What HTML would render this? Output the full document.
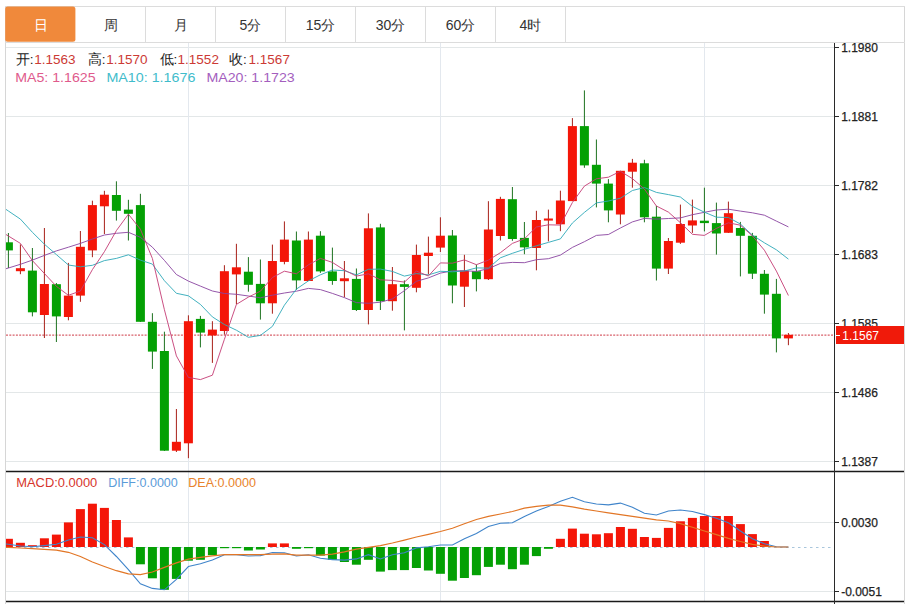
<!DOCTYPE html>
<html><head><meta charset="utf-8"><style>
html,body{margin:0;padding:0;background:#fff;width:917px;height:604px;overflow:hidden}
svg{display:block;font-family:"Liberation Sans",sans-serif}
</style></head><body>
<svg width="917" height="604" viewBox="0 0 917 604">
<line x1="6" y1="47.5" x2="834" y2="47.5" stroke="#e3e7e8" stroke-width="1"/>
<line x1="6" y1="116.5" x2="834" y2="116.5" stroke="#e3e7e8" stroke-width="1"/>
<line x1="6" y1="185.5" x2="834" y2="185.5" stroke="#e3e7e8" stroke-width="1"/>
<line x1="6" y1="254.5" x2="834" y2="254.5" stroke="#e3e7e8" stroke-width="1"/>
<line x1="6" y1="323.5" x2="834" y2="323.5" stroke="#e3e7e8" stroke-width="1"/>
<line x1="6" y1="392.5" x2="834" y2="392.5" stroke="#e3e7e8" stroke-width="1"/>
<line x1="6" y1="461.5" x2="834" y2="461.5" stroke="#e3e7e8" stroke-width="1"/>
<line x1="188.5" y1="43" x2="188.5" y2="471" stroke="#e3e8ee" stroke-width="1"/>
<line x1="188.5" y1="472" x2="188.5" y2="601" stroke="#e3e8ee" stroke-width="1"/>
<line x1="440.5" y1="43" x2="440.5" y2="471" stroke="#e3e8ee" stroke-width="1"/>
<line x1="440.5" y1="472" x2="440.5" y2="601" stroke="#e3e8ee" stroke-width="1"/>
<line x1="704.5" y1="43" x2="704.5" y2="471" stroke="#e3e8ee" stroke-width="1"/>
<line x1="704.5" y1="472" x2="704.5" y2="601" stroke="#e3e8ee" stroke-width="1"/>
<line x1="6" y1="522.5" x2="834" y2="522.5" stroke="#e3e7e8" stroke-width="1"/>
<line x1="6" y1="591.5" x2="834" y2="591.5" stroke="#e3e7e8" stroke-width="1"/>
<defs><clipPath id="cm"><rect x="6" y="43" width="828" height="428"/></clipPath><clipPath id="cd"><rect x="6" y="472" width="828" height="129"/></clipPath></defs>
<line x1="6" y1="335.2" x2="834" y2="335.2" stroke="#d8606a" stroke-width="1.2" stroke-dasharray="2,1.3"/>
<g clip-path="url(#cm)">
<line x1="8.4" y1="233.0" x2="8.4" y2="268.0" stroke="#1c721f" stroke-width="1"/>
<rect x="3.9" y="242.3" width="9.0" height="8.1" fill="#04a004"/>
<line x1="20.4" y1="244.4" x2="20.4" y2="274.2" stroke="#a82018" stroke-width="1"/>
<rect x="15.9" y="268.2" width="9.0" height="3.0" fill="#f41608"/>
<line x1="32.4" y1="248.0" x2="32.4" y2="316.4" stroke="#1c721f" stroke-width="1"/>
<rect x="27.9" y="270.6" width="9.0" height="41.7" fill="#04a004"/>
<line x1="44.4" y1="228.0" x2="44.4" y2="338.0" stroke="#a82018" stroke-width="1"/>
<rect x="39.9" y="284.0" width="9.0" height="31.0" fill="#f41608"/>
<line x1="56.4" y1="283.0" x2="56.4" y2="342.0" stroke="#1c721f" stroke-width="1"/>
<rect x="51.9" y="284.2" width="9.0" height="32.2" fill="#04a004"/>
<line x1="68.4" y1="262.9" x2="68.4" y2="320.3" stroke="#a82018" stroke-width="1"/>
<rect x="63.9" y="295.6" width="9.0" height="21.4" fill="#f41608"/>
<line x1="80.4" y1="231.0" x2="80.4" y2="301.8" stroke="#a82018" stroke-width="1"/>
<rect x="75.9" y="246.8" width="9.0" height="48.8" fill="#f41608"/>
<line x1="92.4" y1="200.7" x2="92.4" y2="257.2" stroke="#a82018" stroke-width="1"/>
<rect x="87.9" y="205.1" width="9.0" height="45.3" fill="#f41608"/>
<line x1="104.4" y1="190.8" x2="104.4" y2="234.0" stroke="#a82018" stroke-width="1"/>
<rect x="99.9" y="194.7" width="9.0" height="11.6" fill="#f41608"/>
<line x1="116.4" y1="181.3" x2="116.4" y2="220.6" stroke="#1c721f" stroke-width="1"/>
<rect x="111.9" y="195.0" width="9.0" height="15.8" fill="#04a004"/>
<line x1="128.4" y1="199.8" x2="128.4" y2="240.5" stroke="#1c721f" stroke-width="1"/>
<rect x="123.9" y="209.6" width="9.0" height="4.2" fill="#04a004"/>
<line x1="140.4" y1="193.8" x2="140.4" y2="322.0" stroke="#1c721f" stroke-width="1"/>
<rect x="135.9" y="205.1" width="9.0" height="116.7" fill="#04a004"/>
<line x1="152.4" y1="313.2" x2="152.4" y2="368.9" stroke="#1c721f" stroke-width="1"/>
<rect x="147.9" y="321.8" width="9.0" height="29.8" fill="#04a004"/>
<line x1="164.4" y1="331.7" x2="164.4" y2="451.0" stroke="#1c721f" stroke-width="1"/>
<rect x="159.9" y="351.0" width="9.0" height="99.7" fill="#04a004"/>
<line x1="176.4" y1="409.0" x2="176.4" y2="452.0" stroke="#a82018" stroke-width="1"/>
<rect x="171.9" y="441.8" width="9.0" height="8.9" fill="#f41608"/>
<line x1="188.4" y1="315.3" x2="188.4" y2="458.2" stroke="#a82018" stroke-width="1"/>
<rect x="183.9" y="321.2" width="9.0" height="122.1" fill="#f41608"/>
<line x1="200.4" y1="315.9" x2="200.4" y2="347.4" stroke="#1c721f" stroke-width="1"/>
<rect x="195.9" y="318.9" width="9.0" height="13.7" fill="#04a004"/>
<line x1="212.4" y1="321.2" x2="212.4" y2="362.9" stroke="#a82018" stroke-width="1"/>
<rect x="207.9" y="329.6" width="9.0" height="5.9" fill="#f41608"/>
<line x1="224.4" y1="265.2" x2="224.4" y2="334.6" stroke="#a82018" stroke-width="1"/>
<rect x="219.9" y="271.2" width="9.0" height="59.8" fill="#f41608"/>
<line x1="236.4" y1="243.8" x2="236.4" y2="304.2" stroke="#a82018" stroke-width="1"/>
<rect x="231.9" y="267.3" width="9.0" height="7.1" fill="#f41608"/>
<line x1="248.4" y1="257.1" x2="248.4" y2="291.7" stroke="#1c721f" stroke-width="1"/>
<rect x="243.9" y="271.7" width="9.0" height="13.1" fill="#04a004"/>
<line x1="260.4" y1="259.5" x2="260.4" y2="319.6" stroke="#1c721f" stroke-width="1"/>
<rect x="255.9" y="283.9" width="9.0" height="19.4" fill="#04a004"/>
<line x1="272.4" y1="244.6" x2="272.4" y2="313.7" stroke="#a82018" stroke-width="1"/>
<rect x="267.9" y="261.0" width="9.0" height="42.3" fill="#f41608"/>
<line x1="284.4" y1="221.4" x2="284.4" y2="264.3" stroke="#a82018" stroke-width="1"/>
<rect x="279.9" y="239.6" width="9.0" height="22.3" fill="#f41608"/>
<line x1="296.4" y1="231.5" x2="296.4" y2="289.9" stroke="#1c721f" stroke-width="1"/>
<rect x="291.9" y="240.5" width="9.0" height="39.9" fill="#04a004"/>
<line x1="308.4" y1="231.5" x2="308.4" y2="281.0" stroke="#a82018" stroke-width="1"/>
<rect x="303.9" y="239.6" width="9.0" height="41.4" fill="#f41608"/>
<line x1="320.4" y1="231.2" x2="320.4" y2="272.9" stroke="#1c721f" stroke-width="1"/>
<rect x="315.9" y="235.7" width="9.0" height="35.7" fill="#04a004"/>
<line x1="332.4" y1="247.6" x2="332.4" y2="284.8" stroke="#1c721f" stroke-width="1"/>
<rect x="327.9" y="271.4" width="9.0" height="9.6" fill="#04a004"/>
<line x1="344.4" y1="261.0" x2="344.4" y2="297.3" stroke="#a82018" stroke-width="1"/>
<rect x="339.9" y="278.3" width="9.0" height="2.9" fill="#f41608"/>
<line x1="356.4" y1="268.5" x2="356.4" y2="311.0" stroke="#1c721f" stroke-width="1"/>
<rect x="351.9" y="278.9" width="9.0" height="31.1" fill="#04a004"/>
<line x1="368.4" y1="213.4" x2="368.4" y2="324.4" stroke="#a82018" stroke-width="1"/>
<rect x="363.9" y="228.3" width="9.0" height="81.7" fill="#f41608"/>
<line x1="380.4" y1="223.8" x2="380.4" y2="310.0" stroke="#1c721f" stroke-width="1"/>
<rect x="375.9" y="227.4" width="9.0" height="73.8" fill="#04a004"/>
<line x1="392.4" y1="267.0" x2="392.4" y2="310.7" stroke="#a82018" stroke-width="1"/>
<rect x="387.9" y="284.2" width="9.0" height="17.0" fill="#f41608"/>
<line x1="404.4" y1="280.4" x2="404.4" y2="330.4" stroke="#1c721f" stroke-width="1"/>
<rect x="399.9" y="284.2" width="9.0" height="2.7" fill="#04a004"/>
<line x1="416.4" y1="244.6" x2="416.4" y2="292.3" stroke="#a82018" stroke-width="1"/>
<rect x="411.9" y="255.0" width="9.0" height="32.8" fill="#f41608"/>
<line x1="428.4" y1="236.6" x2="428.4" y2="274.4" stroke="#a82018" stroke-width="1"/>
<rect x="423.9" y="252.7" width="9.0" height="3.3" fill="#f41608"/>
<line x1="440.4" y1="217.3" x2="440.4" y2="252.0" stroke="#a82018" stroke-width="1"/>
<rect x="435.9" y="235.7" width="9.0" height="11.9" fill="#f41608"/>
<line x1="452.4" y1="230.0" x2="452.4" y2="303.3" stroke="#1c721f" stroke-width="1"/>
<rect x="447.9" y="235.5" width="9.0" height="50.0" fill="#04a004"/>
<line x1="464.4" y1="254.8" x2="464.4" y2="307.0" stroke="#a82018" stroke-width="1"/>
<rect x="459.9" y="270.6" width="9.0" height="16.1" fill="#f41608"/>
<line x1="476.4" y1="264.6" x2="476.4" y2="291.4" stroke="#1c721f" stroke-width="1"/>
<rect x="471.9" y="271.2" width="9.0" height="8.0" fill="#04a004"/>
<line x1="488.4" y1="201.2" x2="488.4" y2="280.0" stroke="#a82018" stroke-width="1"/>
<rect x="483.9" y="229.5" width="9.0" height="49.7" fill="#f41608"/>
<line x1="500.4" y1="196.8" x2="500.4" y2="240.5" stroke="#a82018" stroke-width="1"/>
<rect x="495.9" y="198.9" width="9.0" height="37.1" fill="#f41608"/>
<line x1="512.4" y1="187.0" x2="512.4" y2="240.8" stroke="#1c721f" stroke-width="1"/>
<rect x="507.9" y="199.2" width="9.0" height="39.8" fill="#04a004"/>
<line x1="524.4" y1="222.0" x2="524.4" y2="254.2" stroke="#1c721f" stroke-width="1"/>
<rect x="519.9" y="237.9" width="9.0" height="9.5" fill="#04a004"/>
<line x1="536.4" y1="210.8" x2="536.4" y2="270.3" stroke="#a82018" stroke-width="1"/>
<rect x="531.9" y="220.0" width="9.0" height="28.0" fill="#f41608"/>
<line x1="548.4" y1="209.6" x2="548.4" y2="241.4" stroke="#a82018" stroke-width="1"/>
<rect x="543.9" y="218.5" width="9.0" height="2.1" fill="#f41608"/>
<line x1="560.4" y1="190.7" x2="560.4" y2="231.2" stroke="#a82018" stroke-width="1"/>
<rect x="555.9" y="200.5" width="9.0" height="23.8" fill="#f41608"/>
<line x1="572.4" y1="118.1" x2="572.4" y2="201.1" stroke="#a82018" stroke-width="1"/>
<rect x="567.9" y="126.1" width="9.0" height="75.0" fill="#f41608"/>
<line x1="584.4" y1="90.4" x2="584.4" y2="167.8" stroke="#1c721f" stroke-width="1"/>
<rect x="579.9" y="126.1" width="9.0" height="39.3" fill="#04a004"/>
<line x1="596.4" y1="139.5" x2="596.4" y2="207.4" stroke="#1c721f" stroke-width="1"/>
<rect x="591.9" y="164.8" width="9.0" height="18.8" fill="#04a004"/>
<line x1="608.4" y1="179.1" x2="608.4" y2="222.3" stroke="#1c721f" stroke-width="1"/>
<rect x="603.9" y="183.6" width="9.0" height="26.8" fill="#04a004"/>
<line x1="620.4" y1="170.8" x2="620.4" y2="224.3" stroke="#a82018" stroke-width="1"/>
<rect x="615.9" y="170.8" width="9.0" height="43.7" fill="#f41608"/>
<line x1="632.4" y1="158.9" x2="632.4" y2="187.7" stroke="#a82018" stroke-width="1"/>
<rect x="627.9" y="162.7" width="9.0" height="9.0" fill="#f41608"/>
<line x1="644.4" y1="159.8" x2="644.4" y2="222.3" stroke="#1c721f" stroke-width="1"/>
<rect x="639.9" y="163.3" width="9.0" height="54.0" fill="#04a004"/>
<line x1="656.4" y1="206.0" x2="656.4" y2="280.5" stroke="#1c721f" stroke-width="1"/>
<rect x="651.9" y="216.7" width="9.0" height="51.9" fill="#04a004"/>
<line x1="668.4" y1="238.0" x2="668.4" y2="274.0" stroke="#a82018" stroke-width="1"/>
<rect x="663.9" y="241.0" width="9.0" height="27.6" fill="#f41608"/>
<line x1="680.4" y1="204.6" x2="680.4" y2="243.9" stroke="#a82018" stroke-width="1"/>
<rect x="675.9" y="224.0" width="9.0" height="18.7" fill="#f41608"/>
<line x1="692.4" y1="199.6" x2="692.4" y2="232.9" stroke="#a82018" stroke-width="1"/>
<rect x="687.9" y="220.4" width="9.0" height="5.1" fill="#f41608"/>
<line x1="704.4" y1="187.7" x2="704.4" y2="231.4" stroke="#1c721f" stroke-width="1"/>
<rect x="699.9" y="220.7" width="9.0" height="2.4" fill="#04a004"/>
<line x1="716.4" y1="202.6" x2="716.4" y2="254.6" stroke="#1c721f" stroke-width="1"/>
<rect x="711.9" y="223.1" width="9.0" height="10.4" fill="#04a004"/>
<line x1="728.4" y1="201.6" x2="728.4" y2="233.0" stroke="#a82018" stroke-width="1"/>
<rect x="723.9" y="213.2" width="9.0" height="19.6" fill="#f41608"/>
<line x1="740.4" y1="221.9" x2="740.4" y2="276.4" stroke="#1c721f" stroke-width="1"/>
<rect x="735.9" y="228.0" width="9.0" height="7.8" fill="#04a004"/>
<line x1="752.4" y1="232.9" x2="752.4" y2="279.0" stroke="#1c721f" stroke-width="1"/>
<rect x="747.9" y="235.8" width="9.0" height="37.9" fill="#04a004"/>
<line x1="764.4" y1="270.0" x2="764.4" y2="313.7" stroke="#1c721f" stroke-width="1"/>
<rect x="759.9" y="273.8" width="9.0" height="20.8" fill="#04a004"/>
<line x1="776.4" y1="278.9" x2="776.4" y2="352.4" stroke="#1c721f" stroke-width="1"/>
<rect x="771.9" y="293.8" width="9.0" height="44.6" fill="#04a004"/>
<line x1="788.4" y1="333.0" x2="788.4" y2="345.2" stroke="#a82018" stroke-width="1"/>
<rect x="783.9" y="334.8" width="9.0" height="3.6" fill="#f41608"/>
<polyline points="-3.6,271.7 8.4,268.0 20.4,264.3 32.4,260.1 44.4,255.4 56.4,250.9 68.4,247.2 80.4,243.4 92.4,239.0 104.4,235.0 116.4,233.3 128.4,232.3 140.4,237.3 152.4,247.2 164.4,260.4 176.4,274.5 188.4,281.1 200.4,286.1 212.4,291.0 224.4,293.5 236.4,294.3 248.4,296.0 260.4,297.8 272.4,295.2 284.4,293.0 296.4,291.2 308.4,288.4 320.4,289.6 332.4,293.4 344.4,297.6 356.4,302.6 368.4,303.3 380.4,302.2 392.4,298.9 404.4,290.7 416.4,281.3 428.4,277.9 440.4,273.1 452.4,270.9 464.4,270.8 476.4,271.4 488.4,268.7 500.4,263.4 512.4,262.4 524.4,262.7 536.4,259.7 548.4,258.7 560.4,255.1 572.4,247.4 584.4,241.7 596.4,235.4 608.4,234.5 620.4,228.0 632.4,221.9 644.4,218.4 656.4,219.1 668.4,218.5 680.4,217.9 692.4,214.7 704.4,212.3 716.4,210.0 728.4,209.2 740.4,211.1 752.4,212.8 764.4,215.2 776.4,221.1 788.4,226.9" fill="none" stroke="#8a44a0" stroke-width="1" stroke-opacity="0.9"/>
<polyline points="-3.6,202.9 8.4,211.0 20.4,219.1 32.4,232.3 44.4,244.2 56.4,254.6 68.4,265.0 80.4,266.8 92.4,265.3 104.4,260.6 116.4,258.4 128.4,254.8 140.4,260.1 152.4,264.1 164.4,280.7 176.4,293.3 188.4,295.8 200.4,304.4 212.4,316.9 224.4,324.5 236.4,330.2 248.4,337.3 260.4,335.4 272.4,326.4 284.4,305.2 296.4,289.1 308.4,280.9 320.4,274.8 332.4,270.0 344.4,270.7 356.4,274.9 368.4,269.3 380.4,269.1 392.4,271.4 404.4,276.1 416.4,273.6 428.4,274.9 440.4,271.3 452.4,271.8 464.4,271.0 476.4,267.9 488.4,268.1 500.4,257.8 512.4,253.3 524.4,249.3 536.4,245.8 548.4,242.4 560.4,238.9 572.4,223.0 584.4,212.4 596.4,202.9 608.4,201.0 620.4,198.2 632.4,190.5 644.4,187.5 656.4,192.4 668.4,194.6 680.4,197.0 692.4,206.4 704.4,212.2 716.4,217.2 728.4,217.5 740.4,224.0 752.4,235.1 764.4,242.8 776.4,249.8 788.4,259.1" fill="none" stroke="#2ea8b8" stroke-width="1" stroke-opacity="0.9"/>
<polyline points="-3.6,228.6 8.4,236.0 20.4,243.4 32.4,260.6 44.4,273.5 56.4,286.3 68.4,295.3 80.4,291.0 92.4,269.6 104.4,251.7 116.4,230.6 128.4,214.2 140.4,229.2 152.4,258.5 164.4,309.7 176.4,355.9 188.4,377.4 200.4,379.6 212.4,375.2 224.4,339.3 236.4,304.4 248.4,297.1 260.4,291.2 272.4,277.5 284.4,271.2 296.4,273.8 308.4,264.8 320.4,258.4 332.4,262.4 344.4,270.1 356.4,276.1 368.4,273.8 380.4,279.8 392.4,280.4 404.4,282.1 416.4,271.1 428.4,276.0 440.4,262.9 452.4,263.2 464.4,259.9 476.4,264.7 488.4,260.1 500.4,252.7 512.4,243.4 524.4,238.8 536.4,227.0 548.4,224.8 560.4,225.1 572.4,202.5 584.4,186.1 596.4,178.8 608.4,177.2 620.4,171.3 632.4,178.6 644.4,189.0 656.4,206.0 668.4,212.1 680.4,222.7 692.4,234.3 704.4,235.4 716.4,228.4 728.4,222.8 740.4,225.2 752.4,235.9 764.4,250.2 776.4,271.1 788.4,295.5" fill="none" stroke="#c43c74" stroke-width="1" stroke-opacity="0.9"/>
</g>
<line x1="6" y1="547.5" x2="834" y2="547.5" stroke="#a9c6dc" stroke-width="1" stroke-dasharray="2.5,3.5"/>
<g clip-path="url(#cd)">
<rect x="3.9" y="538.8" width="9.0" height="8.2" fill="#f41608"/>
<rect x="15.9" y="542.8" width="9.0" height="4.2" fill="#f41608"/>
<rect x="27.9" y="545.2" width="9.0" height="1.8" fill="#f41608"/>
<rect x="39.9" y="538.3" width="9.0" height="8.7" fill="#f41608"/>
<rect x="51.9" y="534.6" width="9.0" height="12.4" fill="#f41608"/>
<rect x="63.9" y="522.4" width="9.0" height="24.6" fill="#f41608"/>
<rect x="75.9" y="509.1" width="9.0" height="37.9" fill="#f41608"/>
<rect x="87.9" y="503.7" width="9.0" height="43.3" fill="#f41608"/>
<rect x="99.9" y="507.9" width="9.0" height="39.1" fill="#f41608"/>
<rect x="111.9" y="520.0" width="9.0" height="27.0" fill="#f41608"/>
<rect x="123.9" y="537.4" width="9.0" height="9.6" fill="#f41608"/>
<rect x="135.9" y="547.0" width="9.0" height="17.3" fill="#04a004"/>
<rect x="147.9" y="547.0" width="9.0" height="31.3" fill="#04a004"/>
<rect x="159.9" y="547.0" width="9.0" height="42.8" fill="#04a004"/>
<rect x="171.9" y="547.0" width="9.0" height="31.9" fill="#04a004"/>
<rect x="183.9" y="547.0" width="9.0" height="13.7" fill="#04a004"/>
<rect x="195.9" y="547.0" width="9.0" height="12.8" fill="#04a004"/>
<rect x="207.9" y="547.0" width="9.0" height="8.2" fill="#04a004"/>
<rect x="219.9" y="547.0" width="9.0" height="1.2" fill="#04a004"/>
<rect x="231.9" y="547.0" width="9.0" height="1.2" fill="#04a004"/>
<rect x="243.9" y="547.0" width="9.0" height="3.5" fill="#04a004"/>
<rect x="255.9" y="547.0" width="9.0" height="2.5" fill="#04a004"/>
<rect x="267.9" y="543.4" width="9.0" height="3.6" fill="#f41608"/>
<rect x="279.9" y="543.4" width="9.0" height="3.6" fill="#f41608"/>
<rect x="291.9" y="547.0" width="9.0" height="1.8" fill="#04a004"/>
<rect x="303.9" y="547.0" width="9.0" height="1.2" fill="#04a004"/>
<rect x="315.9" y="547.0" width="9.0" height="8.6" fill="#04a004"/>
<rect x="327.9" y="547.0" width="9.0" height="12.8" fill="#04a004"/>
<rect x="339.9" y="547.0" width="9.0" height="15.0" fill="#04a004"/>
<rect x="351.9" y="547.0" width="9.0" height="17.7" fill="#04a004"/>
<rect x="363.9" y="547.0" width="9.0" height="12.8" fill="#04a004"/>
<rect x="375.9" y="547.0" width="9.0" height="24.6" fill="#04a004"/>
<rect x="387.9" y="547.0" width="9.0" height="23.1" fill="#04a004"/>
<rect x="399.9" y="547.0" width="9.0" height="23.1" fill="#04a004"/>
<rect x="411.9" y="547.0" width="9.0" height="21.0" fill="#04a004"/>
<rect x="423.9" y="547.0" width="9.0" height="23.5" fill="#04a004"/>
<rect x="435.9" y="547.0" width="9.0" height="26.8" fill="#04a004"/>
<rect x="447.9" y="547.0" width="9.0" height="33.7" fill="#04a004"/>
<rect x="459.9" y="547.0" width="9.0" height="31.0" fill="#04a004"/>
<rect x="471.9" y="547.0" width="9.0" height="28.2" fill="#04a004"/>
<rect x="483.9" y="547.0" width="9.0" height="19.9" fill="#04a004"/>
<rect x="495.9" y="547.0" width="9.0" height="17.7" fill="#04a004"/>
<rect x="507.9" y="547.0" width="9.0" height="22.2" fill="#04a004"/>
<rect x="519.9" y="547.0" width="9.0" height="17.7" fill="#04a004"/>
<rect x="531.9" y="547.0" width="9.0" height="9.1" fill="#04a004"/>
<rect x="543.9" y="547.0" width="9.0" height="1.8" fill="#04a004"/>
<rect x="555.9" y="538.8" width="9.0" height="8.2" fill="#f41608"/>
<rect x="567.9" y="528.6" width="9.0" height="18.4" fill="#f41608"/>
<rect x="579.9" y="533.7" width="9.0" height="13.3" fill="#f41608"/>
<rect x="591.9" y="534.3" width="9.0" height="12.7" fill="#f41608"/>
<rect x="603.9" y="533.2" width="9.0" height="13.8" fill="#f41608"/>
<rect x="615.9" y="527.0" width="9.0" height="20.0" fill="#f41608"/>
<rect x="627.9" y="528.8" width="9.0" height="18.2" fill="#f41608"/>
<rect x="639.9" y="537.0" width="9.0" height="10.0" fill="#f41608"/>
<rect x="651.9" y="537.9" width="9.0" height="9.1" fill="#f41608"/>
<rect x="663.9" y="527.9" width="9.0" height="19.1" fill="#f41608"/>
<rect x="675.9" y="521.3" width="9.0" height="25.7" fill="#f41608"/>
<rect x="687.9" y="517.9" width="9.0" height="29.1" fill="#f41608"/>
<rect x="699.9" y="516.0" width="9.0" height="31.0" fill="#f41608"/>
<rect x="711.9" y="516.0" width="9.0" height="31.0" fill="#f41608"/>
<rect x="723.9" y="516.0" width="9.0" height="31.0" fill="#f41608"/>
<rect x="735.9" y="524.1" width="9.0" height="22.9" fill="#f41608"/>
<rect x="747.9" y="534.1" width="9.0" height="12.9" fill="#f41608"/>
<rect x="759.9" y="541.0" width="9.0" height="6.0" fill="#f41608"/>
<polyline points="-3.6,542.6 8.4,544.3 20.4,546.0 32.4,546.8 44.4,545.6 56.4,544.3 68.4,540.0 80.4,537.0 92.4,537.7 104.4,544.6 116.4,556.5 128.4,569.6 140.4,583.8 152.4,588.4 164.4,589.8 176.4,579.3 188.4,566.5 200.4,563.8 212.4,560.1 224.4,554.7 236.4,554.7 248.4,556.0 260.4,555.6 272.4,552.5 284.4,552.8 296.4,556.0 308.4,554.7 320.4,558.3 332.4,559.6 344.4,560.1 356.4,558.9 368.4,554.7 380.4,558.9 392.4,554.7 404.4,552.8 416.4,547.9 428.4,546.8 440.4,545.0 452.4,545.0 464.4,538.8 476.4,533.4 488.4,526.4 500.4,523.2 512.4,522.8 524.4,516.4 536.4,511.0 548.4,506.4 560.4,501.3 572.4,497.3 584.4,501.8 596.4,504.0 608.4,504.9 620.4,503.1 632.4,507.3 644.4,513.3 656.4,515.0 668.4,511.0 680.4,510.0 692.4,511.5 704.4,514.6 716.4,518.2 728.4,522.8 740.4,531.0 752.4,538.8 764.4,543.7 776.4,546.8 788.4,547.0" fill="none" stroke="#3f84ca" stroke-width="1.1"/>
<polyline points="-3.6,546.8 8.4,547.4 20.4,548.0 32.4,548.7 44.4,549.4 56.4,550.1 68.4,552.3 80.4,556.5 92.4,562.0 104.4,566.5 116.4,570.7 128.4,573.8 140.4,574.7 152.4,572.0 164.4,567.4 176.4,562.9 188.4,559.2 200.4,557.4 212.4,555.9 224.4,554.7 236.4,554.7 248.4,554.7 260.4,554.7 272.4,554.1 284.4,553.8 296.4,555.2 308.4,555.0 320.4,555.2 332.4,554.1 344.4,551.9 356.4,549.2 368.4,547.4 380.4,545.6 392.4,543.0 404.4,540.1 416.4,537.0 428.4,534.3 440.4,531.5 452.4,528.3 464.4,523.7 476.4,519.5 488.4,516.4 500.4,514.0 512.4,511.5 524.4,508.2 536.4,506.4 548.4,505.1 560.4,505.1 572.4,506.8 584.4,509.1 596.4,511.0 608.4,512.8 620.4,514.6 632.4,516.4 644.4,518.2 656.4,519.8 668.4,521.0 680.4,523.7 692.4,527.3 704.4,531.0 716.4,534.6 728.4,538.3 740.4,541.5 752.4,544.3 764.4,546.1 776.4,547.0 788.4,547.0" fill="none" stroke="#e27626" stroke-width="1.2"/>
</g>
<line x1="5.5" y1="6" x2="5.5" y2="604" stroke="#d6d6d6" stroke-width="1"/>
<line x1="904.5" y1="6" x2="904.5" y2="604" stroke="#d6d6d6" stroke-width="1"/>
<line x1="5" y1="6.5" x2="905" y2="6.5" stroke="#dcdcdc" stroke-width="1"/>
<line x1="5" y1="42.5" x2="905" y2="42.5" stroke="#dcdcdc" stroke-width="1"/>
<line x1="6" y1="471.5" x2="904" y2="471.5" stroke="#1a1a1a" stroke-width="1.4"/>
<line x1="6" y1="601.5" x2="904" y2="601.5" stroke="#1a1a1a" stroke-width="1.4"/>
<line x1="834.5" y1="43" x2="834.5" y2="604" stroke="#2a2a2a" stroke-width="1"/>
<rect x="5.2" y="6.6" width="70.2" height="35.1" rx="2.5" fill="#f0893b"/>
<line x1="145.5" y1="7" x2="145.5" y2="42" stroke="#dcdcdc" stroke-width="1"/>
<line x1="215.5" y1="7" x2="215.5" y2="42" stroke="#dcdcdc" stroke-width="1"/>
<line x1="285.5" y1="7" x2="285.5" y2="42" stroke="#dcdcdc" stroke-width="1"/>
<line x1="355.5" y1="7" x2="355.5" y2="42" stroke="#dcdcdc" stroke-width="1"/>
<line x1="425.5" y1="7" x2="425.5" y2="42" stroke="#dcdcdc" stroke-width="1"/>
<line x1="495.5" y1="7" x2="495.5" y2="42" stroke="#dcdcdc" stroke-width="1"/>
<line x1="565.5" y1="7" x2="565.5" y2="42" stroke="#dcdcdc" stroke-width="1"/>
<text x="40.5" y="30" text-anchor="middle" font-size="14" fill="#ffffff">日</text>
<text x="110.5" y="30" text-anchor="middle" font-size="14" fill="#333333">周</text>
<text x="180.5" y="30" text-anchor="middle" font-size="14" fill="#333333">月</text>
<text x="250.5" y="30" text-anchor="middle" font-size="14" fill="#333333">5分</text>
<text x="320.5" y="30" text-anchor="middle" font-size="14" fill="#333333">15分</text>
<text x="390.5" y="30" text-anchor="middle" font-size="14" fill="#333333">30分</text>
<text x="460.5" y="30" text-anchor="middle" font-size="14" fill="#333333">60分</text>
<text x="530.5" y="30" text-anchor="middle" font-size="14" fill="#333333">4时</text>
<line x1="834" y1="47.5" x2="839" y2="47.5" stroke="#2a2a2a" stroke-width="1"/>
<text x="841.2" y="51.7" font-size="12" fill="#222" stroke="#222" stroke-width="0.25">1.1980</text>
<line x1="834" y1="116.5" x2="839" y2="116.5" stroke="#2a2a2a" stroke-width="1"/>
<text x="841.2" y="120.7" font-size="12" fill="#222" stroke="#222" stroke-width="0.25">1.1881</text>
<line x1="834" y1="185.5" x2="839" y2="185.5" stroke="#2a2a2a" stroke-width="1"/>
<text x="841.2" y="189.7" font-size="12" fill="#222" stroke="#222" stroke-width="0.25">1.1782</text>
<line x1="834" y1="254.5" x2="839" y2="254.5" stroke="#2a2a2a" stroke-width="1"/>
<text x="841.2" y="258.7" font-size="12" fill="#222" stroke="#222" stroke-width="0.25">1.1683</text>
<line x1="834" y1="323.5" x2="839" y2="323.5" stroke="#2a2a2a" stroke-width="1"/>
<text x="841.2" y="327.7" font-size="12" fill="#222" stroke="#222" stroke-width="0.25">1.1585</text>
<line x1="834" y1="392.5" x2="839" y2="392.5" stroke="#2a2a2a" stroke-width="1"/>
<text x="841.2" y="396.7" font-size="12" fill="#222" stroke="#222" stroke-width="0.25">1.1486</text>
<line x1="834" y1="461.5" x2="839" y2="461.5" stroke="#2a2a2a" stroke-width="1"/>
<text x="841.2" y="465.7" font-size="12" fill="#222" stroke="#222" stroke-width="0.25">1.1387</text>
<line x1="834" y1="522.5" x2="839" y2="522.5" stroke="#2a2a2a" stroke-width="1"/>
<text x="841.2" y="526.7" font-size="12" fill="#222" stroke="#222" stroke-width="0.25">0.0030</text>
<line x1="834" y1="591.5" x2="839" y2="591.5" stroke="#2a2a2a" stroke-width="1"/>
<text x="841.2" y="595.7" font-size="12" fill="#222" stroke="#222" stroke-width="0.25">-0.0051</text>
<rect x="836" y="326" width="68" height="18" fill="#f01a0a"/>
<line x1="836" y1="335.5" x2="840" y2="335.5" stroke="#ffffff" stroke-width="1"/>
<text x="842.3" y="340" font-size="12" fill="#ffffff">1.1567</text>
<text x="15.7" y="63.5" font-size="13.5" fill="#222">开:</text>
<text x="34.3" y="63.5" font-size="13.5" fill="#cc3a35">1.1563</text>
<text x="87.7" y="63.5" font-size="13.5" fill="#222">高:</text>
<text x="106.3" y="63.5" font-size="13.5" fill="#cc3a35">1.1570</text>
<text x="159.6" y="63.5" font-size="13.5" fill="#222">低:</text>
<text x="177.6" y="63.5" font-size="13.5" fill="#cc3a35">1.1552</text>
<text x="229.0" y="63.5" font-size="13.5" fill="#222">收:</text>
<text x="248.6" y="63.5" font-size="13.5" fill="#cc3a35">1.1567</text>
<text x="15.2" y="81.5" font-size="13.5" fill="#e05a8c" textLength="80.40" lengthAdjust="spacingAndGlyphs">MA5: 1.1625</text>
<text x="106.4" y="81.5" font-size="13.5" fill="#3fbccb" textLength="89.00" lengthAdjust="spacingAndGlyphs">MA10: 1.1676</text>
<text x="206.4" y="81.5" font-size="13.5" fill="#a45ebe" textLength="88.30" lengthAdjust="spacingAndGlyphs">MA20: 1.1723</text>
<text x="16.2" y="486.8" font-size="13.5" fill="#d6352c" textLength="81.10" lengthAdjust="spacingAndGlyphs">MACD:0.0000</text>
<text x="108.2" y="486.8" font-size="13.5" fill="#5b9bd8" textLength="69.60" lengthAdjust="spacingAndGlyphs">DIFF:0.0000</text>
<text x="188.2" y="486.8" font-size="13.5" fill="#e8832c" textLength="67.80" lengthAdjust="spacingAndGlyphs">DEA:0.0000</text>
</svg>
</body></html>
